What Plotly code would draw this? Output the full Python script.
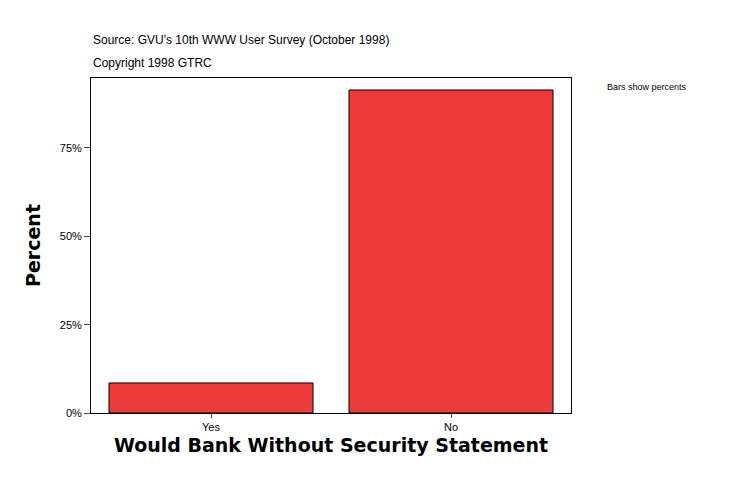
import plotly.graph_objects as go

# data
categories = ['Yes', 'No']
percents = [8.5, 91.4]
tick_vals = [0, 25, 50, 75]
tick_text = ['0%', '25%', '50%', '75%']

# page is offset ~8px by body margin, compensate
L, T, R, B = 83, 70, 563, 405

fig = go.Figure()
fig.add_trace(go.Bar(x=categories, y=percents, width=0.85,
                     marker=dict(color='rgb(238,59,59)',
                                 line=dict(color='black', width=1))))

fig.update_layout(
    width=734, height=496,
    margin=dict(l=L, r=734 - R, t=T, b=496 - B),
    paper_bgcolor='white', plot_bgcolor='white',
    showlegend=False,
    font=dict(family='Liberation Sans, Arial', size=11, color='black'),
)
pw, ph = R - L, B - T
def px(x): return (x - 8 - L) / pw
def py(y): return (B - (y - 8)) / ph

fig.add_annotation(text="Source: GVU's 10th WWW User Survey (October 1998)", x=px(91), y=py(40),
                   xref='paper', yref='paper', showarrow=False, xanchor='left', yanchor='middle',
                   font=dict(size=12))
fig.add_annotation(text='Copyright 1998 GTRC', x=px(91), y=py(63),
                   xref='paper', yref='paper', showarrow=False, xanchor='left', yanchor='middle',
                   font=dict(size=12))
fig.add_annotation(text='Bars show percents', x=px(605), y=py(87),
                   xref='paper', yref='paper', showarrow=False, xanchor='left', yanchor='middle',
                   font=dict(size=9))

fig.update_xaxes(range=[-0.5, 1.5], showline=True, linecolor='black', mirror=True,
                 ticks='outside', ticklen=4, tickfont=dict(size=11),
                 title=dict(text='<b>Would Bank Without Security Statement</b>',
                            font=dict(size=19, family='DejaVu Sans, Arial'), standoff=6))
fig.update_yaxes(range=[0, 94.8], showline=True, linecolor='black', mirror=True,
                 showgrid=False, zeroline=False,
                 tickvals=tick_vals, ticktext=tick_text, ticks='outside', ticklen=6,
                 tickfont=dict(size=11),
                 title=dict(text='<b>Percent</b>', font=dict(size=19, family='DejaVu Sans, Arial'),
                            standoff=14))

fig.write_html("out.html")
